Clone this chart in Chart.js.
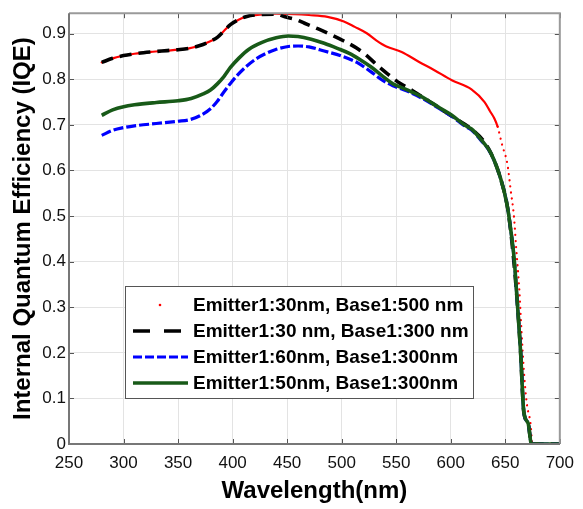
<!DOCTYPE html>
<html><head><meta charset="utf-8">
<script src="https://cdn.jsdelivr.net/npm/chart.js@4/dist/chart.umd.min.js"></script>
<style>html,body{margin:0;padding:0;background:#fff}</style>
</head><body>
<canvas id="c" width="583" height="509"></canvas>
<script>
// ---- data ----
const xTicksMin = 250, xTicksMax = 700, xStep = 50;
const yMin = 0, yMax = 0.945, yStep = 0.1;

const seriesLabels = [
  "Emitter1:30nm, Base1:500 nm",
  "Emitter1:30 nm, Base1:300 nm",
  "Emitter1:60nm, Base1:300nm",
  "Emitter1:50nm, Base1:300nm"
];

const redWl = [280,290,300,310,325,340,350,360,370,380,386,392,398,405,413,425,440,457,470,487,502,512,523,532,541,555,571,585,601,619,631,636,640,643,647,652,655,658,660,663,664,666,668,670,673,675,700];
const redIqe = [0.837,0.846,0.852,0.856,0.860,0.863,0.865,0.868,0.874,0.884,0.892,0.906,0.920,0.930,0.938,0.942,0.944,0.943,0.941,0.937,0.927,0.915,0.901,0.885,0.872,0.860,0.838,0.820,0.798,0.778,0.750,0.730,0.714,0.696,0.657,0.613,0.556,0.498,0.430,0.333,0.286,0.200,0.130,0.084,0.048,0,0];

const blackWl = [280,290,300,310,325,340,350,360,370,380,386,392,398,405,413,425,440,448,458,466,478,490,502,514,523,532,542,553,565,580,601,619,630,637,646,652,656,661,664,667,671,674,700];
const blackIqe = [0.837,0.846,0.852,0.856,0.860,0.863,0.865,0.868,0.874,0.884,0.892,0.906,0.920,0.930,0.938,0.942,0.943,0.937,0.931,0.923,0.911,0.898,0.884,0.868,0.852,0.832,0.812,0.792,0.775,0.752,0.719,0.691,0.665,0.637,0.580,0.520,0.445,0.311,0.203,0.070,0.045,0,0];

const blueWl = [280,290,300,310,330,350,360,370,380,386,392,398,404,412,421,430,439,451,460,470,484,500,514,526,538,547,560,574,590,601,613,619,627,637,646,652,655,658,661,664,667,671,674,700];
const blueIqe = [0.677,0.688,0.694,0.698,0.703,0.708,0.711,0.720,0.736,0.752,0.772,0.791,0.808,0.827,0.844,0.856,0.865,0.872,0.873,0.871,0.862,0.851,0.837,0.818,0.797,0.786,0.774,0.758,0.735,0.719,0.697,0.689,0.668,0.636,0.580,0.520,0.470,0.410,0.311,0.203,0.070,0.045,0,0];

const greenWl = [280,290,300,310,330,350,362,373,380,386,392,398,406,415,427,440,451,460,472,484,496,507,517,527,538,547,560,574,590,601,613,619,627,637,646,652,655,658,661,664,667,671,674,700];
const greenIqe = [0.721,0.733,0.740,0.744,0.749,0.753,0.758,0.768,0.777,0.790,0.806,0.826,0.847,0.866,0.881,0.891,0.895,0.894,0.888,0.879,0.868,0.857,0.843,0.827,0.806,0.790,0.777,0.761,0.737,0.721,0.699,0.691,0.670,0.637,0.580,0.520,0.470,0.410,0.311,0.203,0.070,0.045,0,0];

const xTitle = "Wavelength(nm)";
const yTitle = "Internal Quantum Efficiency (IQE)";

// ---- build ----
const pts = (xs, ys) => xs.map((v, i) => ({x: v, y: ys[i]}));
const FONT = "'Liberation Sans', Arial, sans-serif";

const datasets = [
  {label: seriesLabels[0], data: pts(redWl, redIqe), borderColor: '#ff0000', borderWidth: 2.2,
   borderCapStyle: 'round', order: 4, legendKind: 'dot',
   segment: {borderDash: c => Math.abs(c.p1.y - c.p0.y) > 3 * Math.abs(c.p1.x - c.p0.x) ? [0.1, 6] : undefined}},
  {label: seriesLabels[1], data: pts(blackWl, blackIqe), borderColor: '#000000', borderWidth: 3.6,
   borderDash: [12, 7], order: 3, legendDash: [17, 14]},
  {label: seriesLabels[2], data: pts(blueWl, blueIqe), borderColor: '#0000ff', borderWidth: 3.2,
   borderDash: [10, 3], order: 2, legendDash: [9, 3]},
  {label: seriesLabels[3], data: pts(greenWl, greenIqe), borderColor: '#185a18', borderWidth: 3.6,
   order: 1, legendDash: []}
];
datasets.forEach(d => { d.pointRadius = 0; d.fill = false; d.cubicInterpolationMode = 'monotone'; });

const framePlugin = {
  id: 'frame',
  afterDatasetsDraw(chart) {
    const {ctx, chartArea: a, scales: {x, y}} = chart;
    ctx.save();
    ctx.strokeStyle = '#555';
    ctx.lineWidth = 1;
    ctx.beginPath();
    x.ticks.forEach(t => {
      const px = Math.round(x.getPixelForValue(t.value)) + 0.5;
      ctx.moveTo(px, a.bottom); ctx.lineTo(px, a.bottom - 5);
      ctx.moveTo(px, a.top); ctx.lineTo(px, a.top + 5);
    });
    y.ticks.forEach(t => {
      const py = Math.round(y.getPixelForValue(t.value)) + 0.5;
      ctx.moveTo(a.left, py); ctx.lineTo(a.left + 5, py);
      ctx.moveTo(a.right, py); ctx.lineTo(a.right - 5, py);
    });
    ctx.stroke();
    ctx.lineWidth = 2;
    ctx.strokeStyle = '#9a9a9a';
    ctx.beginPath();
    ctx.moveTo(a.left, a.top); ctx.lineTo(a.right, a.top); ctx.lineTo(a.right, a.bottom);
    ctx.stroke();
    ctx.strokeStyle = '#777';
    ctx.beginPath();
    ctx.moveTo(a.left, a.top); ctx.lineTo(a.left, a.bottom); ctx.lineTo(a.right, a.bottom);
    ctx.stroke();
    ctx.restore();
  }
};

const legendPlugin = {
  id: 'boxLegend',
  afterDraw(chart) {
    const {ctx} = chart;
    const bx = 125, by = 286, bw = 348, bh = 112;
    const rowH = 26, firstRow = 305;
    ctx.save();
    ctx.fillStyle = '#fff';
    ctx.fillRect(bx, by, bw, bh);
    ctx.strokeStyle = '#555';
    ctx.lineWidth = 1;
    ctx.strokeRect(bx + 0.5, by + 0.5, bw, bh);
    chart.data.datasets.forEach((d, i) => {
      const cy = firstRow + i * rowH;
      if (d.legendKind === 'dot') {
        ctx.fillStyle = d.borderColor;
        ctx.beginPath(); ctx.arc(160, cy, 1.3, 0, Math.PI * 2); ctx.fill();
      } else {
        ctx.strokeStyle = d.borderColor;
        ctx.lineWidth = d.borderWidth;
        ctx.setLineDash(d.legendDash);
        ctx.beginPath(); ctx.moveTo(133, cy); ctx.lineTo(188, cy); ctx.stroke();
        ctx.setLineDash([]);
      }
      ctx.fillStyle = '#000';
      ctx.font = "bold 19px " + FONT;
      ctx.textBaseline = 'middle';
      ctx.textAlign = 'left';
      ctx.fillText(d.label, 193, cy + 1);
    });
    ctx.restore();
  }
};

new Chart(document.getElementById('c'), {
  type: 'line',
  data: {datasets},
  options: {
    responsive: false,
    animation: false,
    devicePixelRatio: 1,
    layout: {padding: {left: 0, top: 7, right: 13, bottom: 0}},
    plugins: {legend: {display: false}, tooltip: {enabled: false}},
    scales: {
      x: {
        type: 'linear', min: xTicksMin, max: xTicksMax,
        ticks: {stepSize: xStep, color: '#111', padding: 9, maxRotation: 0,
                font: {family: FONT, size: 17}},
        grid: {color: '#e3e3e3', drawTicks: false},
        border: {display: false},
        title: {display: true, text: xTitle, color: '#000',
                font: {family: FONT, size: 24, weight: 'bold'}, padding: {top: 0, bottom: 3}},
        afterFit(s) { s.height = 65; }
      },
      y: {
        type: 'linear', min: yMin, max: yMax,
        ticks: {stepSize: yStep, includeBounds: false, color: '#111', padding: 3,
                font: {family: FONT, size: 17}},
        grid: {color: '#e3e3e3', drawTicks: false},
        border: {display: false},
        title: {display: true, text: yTitle, color: '#000',
                font: {family: FONT, size: 24, weight: 'bold'}, padding: {top: 9, bottom: 0}},
        afterFit(s) { s.width = 69; }
      }
    }
  },
  plugins: [framePlugin, legendPlugin]
});
</script>
</body></html>
